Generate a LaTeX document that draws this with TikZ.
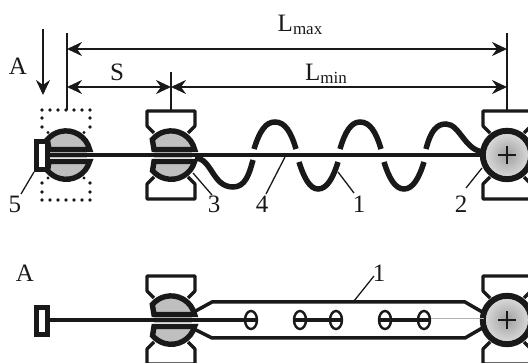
\documentclass[tikz,border=0pt]{standalone}
\usepackage{fontspec}
\setmainfont{Liberation Serif}
\usetikzlibrary{arrows.meta,shapes.geometric}
\definecolor{ink}{gray}{0.1}
\definecolor{slotgray}{gray}{0.75}
\tikzset{
  lbl/.style={font=\fontsize{25}{25}\selectfont,text=ink,inner sep=0pt},
  lead/.style={draw=ink,line width=1.3pt},
  barb/.tip={Stealth[length=15pt,width=14pt,inset=5pt]},
  dim/.style={draw=ink,fill=ink,line width=2pt,barb-barb},
  ext/.style={draw=ink,line width=1.4pt},
  wave/.style={draw=ink,line width=5.5pt},
  clampline/.style={draw=ink,line width=3.2pt,line join=round},
  plate/.style={draw=ink,line width=3.5pt,line join=round},
  rod/.style={draw=ink,line width=3.6pt},
  eye/.style={draw=ink,line width=2.4pt,ellipse,minimum width=12pt,minimum height=18pt,inner sep=0pt},
  tab/.style={draw=ink,line width=5pt,fill=white},
  dotmark/.style={fill=ink},
}
\newcommand{\clampset}[1]{%
  \begin{scope}[shift={(#1)}]
    \draw[clampline] (-17,-22) -- (-24,-29) -- (-24,-44) -- (24,-44) -- (24,-29) -- (17,-22);
    \draw[clampline] (-17,22) -- (-24,29) -- (-24,44) -- (24,44) -- (24,29) -- (17,22);
  \end{scope}}
\newcommand{\slotscrew}[1]{%
  \begin{scope}[shift={(#1)}]
    \fill[white] (-17,-6) rectangle (22,7);
    \fill[slotgray] (-17,-3.2) rectangle (21,-2);
    \fill[slotgray] (-17,2.2) rectangle (21,3.4);
    \draw[draw=ink,line width=5.4pt,fill=slotgray,miter limit=10] (23.6,-5.5) arc[start angle=-13.5,end angle=-140,radius=24.3] -- (-17,-5.5) -- cycle;
    \draw[draw=ink,line width=5.4pt,fill=slotgray,miter limit=10] (23.6,6.5) arc[start angle=15.5,end angle=140,radius=24.3] -- (-17,6.5) -- cycle;
  \end{scope}}
\newcommand{\headscrew}[1]{%
  \begin{scope}[shift={(#1)}]
    \shade[inner color=gray!75,outer color=gray!30] (0,0) circle[radius=22];
    \draw[draw=ink,line width=6pt] (0,0) circle[radius=24.2];
    \draw[draw=ink,line width=1.5pt] (-9,0) -- (9,0) (0,-9) -- (0,9);
  \end{scope}}
\begin{document}
\begin{tikzpicture}[x=1pt,y=-1pt]
\useasboundingbox (0,0) rectangle (528,363);
% dotted bracket
\foreach \x in {42,50,58,66,74,82,90} {\fill[dotmark] (\x,110) circle[radius=1.8] (\x,200) circle[radius=1.8];}
\foreach \y in {118,127,183,192} {\fill[dotmark] (42,\y) circle[radius=1.8] (90,\y) circle[radius=1.8];}
\fill[dotmark] (48,132.5) circle[radius=1.7] (84,132.5) circle[radius=1.7] (48,178) circle[radius=1.7] (84,178) circle[radius=1.7];
% wave
\draw[wave] (195,158) .. controls (212,158) and (212,187) .. (233,187) .. controls (245,187) and (249,175) .. (253,160);
\draw[wave] (254,149) .. controls (260,130) and (266,122) .. (275,122) .. controls (285,122) and (291,132) .. (296,149);
\draw[wave] (299,162) .. controls (304,178) and (310,189) .. (318,189) .. controls (327,189) and (333,178) .. (338,162);
\draw[wave] (340,149) .. controls (345,132) and (351,122) .. (360,122) .. controls (370,122) and (376,132) .. (381,149);
\draw[wave] (384,162) .. controls (389,178) and (395,189) .. (404,189) .. controls (413,189) and (419,178) .. (424,162);
\draw[wave] (426,149) .. controls (431,130) and (437,124) .. (446,124) .. controls (460,124) and (465,152) .. (485,152);
% screws
\clampset{171,155}
\clampset{507,155}
\slotscrew{66,155}
\slotscrew{171,155}
\headscrew{507,155}
% tab and rod
\coordinate (tabR) at (48,155);
\coordinate (rodR) at (484,155);
\draw[rod] (tabR) -- (rodR);
\draw[tab] (36.5,141.5) rectangle (47.5,169.5);
% dimensions
\coordinate (xL) at (67,33); \coordinate (xLb) at (67,110);
\coordinate (xR) at (507,33); \coordinate (xRb) at (507,110);
\coordinate (xM) at (171,72); \coordinate (xMb) at (171,110);
\draw[ext] (xL) -- (xLb);
\draw[ext] (xR) -- (xRb);
\draw[ext] (xM) -- (xMb);
\coordinate (a1) at (67,49); \coordinate (a2) at (507,49);
\coordinate (b1) at (67,87); \coordinate (b2) at (171,87); \coordinate (b3) at (507,87);
\draw[dim] (a1) -- (a2);
\draw[dim] (b1) -- (b2);
\draw[dim] (b2) -- (b3);
\coordinate (arrA) at (43,29); \coordinate (arrB) at (43,95);
\draw[draw=ink,fill=ink,line width=2pt,-barb] (arrA) -- (arrB);
% labels
\node[lbl] (lA) at (18,66) {A};
\node[lbl] (lS) at (117,72) {S};
\node[lbl] (lLmax) at (300,25) {L\raisebox{-3.5pt}{\fontsize{17}{17}\selectfont max}};
\node[lbl] (lLmin) at (326,74) {L\raisebox{-3.5pt}{\fontsize{17}{17}\selectfont min}};
\node[lbl] (n5) at (15,204) {5};
\node[lbl] (n3) at (214,204) {3};
\node[lbl] (n4) at (262,204) {4};
\node[lbl] (n1) at (359,204) {1};
\node[lbl] (n2) at (461,204) {2};
\coordinate (p5) at (34,172); \coordinate (q5) at (21,194);
\coordinate (p3) at (193,173); \coordinate (q3) at (212,195);
\coordinate (p4) at (285,157); \coordinate (q4) at (266,194);
\coordinate (p1) at (338,172); \coordinate (q1) at (354,193);
\coordinate (p2) at (482,168); \coordinate (q2) at (466,188);
\draw[lead] (p5) -- (q5);
\draw[lead] (p3) -- (q3);
\draw[lead] (p4) -- (q4);
\draw[lead] (p1) -- (q1);
\draw[lead] (p2) -- (q2);
% lower assembly
\draw[plate] (192,313) -- (212,302) -- (465,302) -- (484,313);
\draw[plate] (192,328) -- (212,338) -- (465,338) -- (484,327);
\clampset{171,320}
\clampset{507,320}
\slotscrew{171,320}
\headscrew{507,320}
\node[eye] (e1) at (251,320) {};
\node[eye] (e2) at (300,320) {};
\node[eye] (e3) at (336,320) {};
\node[eye] (e4) at (385,320) {};
\node[eye] (e5) at (424,320) {};
\coordinate (t2) at (48,320);
\coordinate (hd) at (484,318);
\draw[rod] (t2) -- (e1.east);
\draw[rod] (e2.west) -- (e3.east);
\draw[rod] (e4.west) -- (e5.east);
\draw[draw=gray!60,line width=0.6pt] (e5.east |- hd) -- (hd);
\draw[tab] (36.5,307.5) rectangle (47.5,334.5);
\node[lbl] (lA2) at (25,273) {A};
\node[lbl] (n1b) at (379,273) {1};
\coordinate (p1b) at (354,301); \coordinate (q1b) at (374,276);
\draw[lead] (p1b) -- (q1b);
\end{tikzpicture}
\end{document}
